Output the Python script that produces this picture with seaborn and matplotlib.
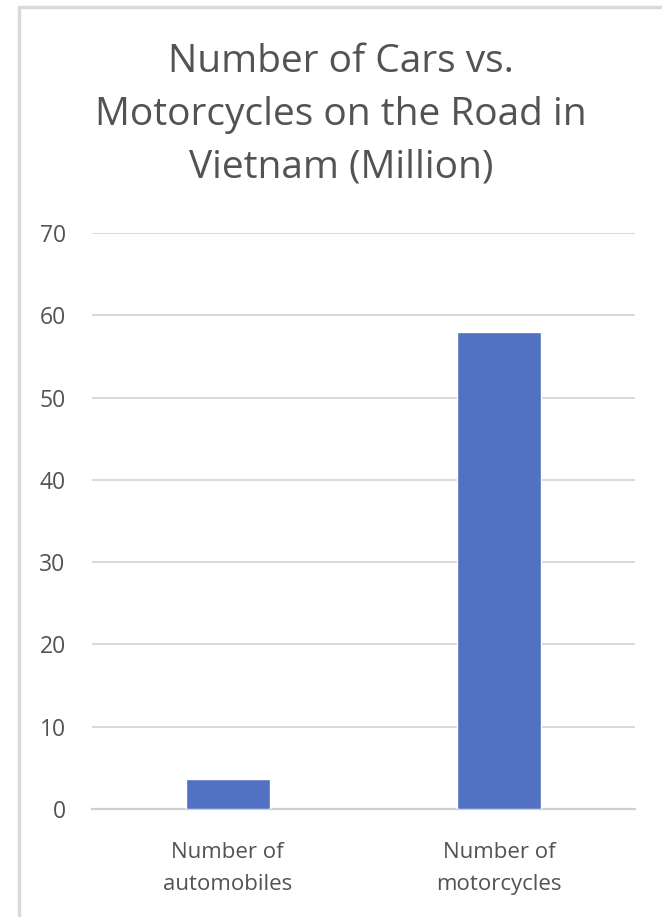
import matplotlib
matplotlib.use("Agg")
import matplotlib.pyplot as plt
from matplotlib.lines import Line2D
import seaborn as sns
import pandas as pd

categories = ["Number of\nautomobiles", "Number of\nmotorcycles"]
values = [3.6, 58]
yticks = [0, 10, 20, 30, 40, 50, 60, 70]
title = "Number of Cars vs.\nMotorcycles on the Road in\nVietnam (Million)"

sns.set_theme(style="white")
plt.rcParams["font.family"] = ["Open Sans", "DejaVu Sans"]

df = pd.DataFrame({"category": categories, "value": values})

fig = plt.figure(figsize=(6.62, 9.17), dpi=100)
ax = fig.add_axes([0.139, 0.1178, 0.820, 0.628])

sns.barplot(data=df, x="category", y="value", color="#5371C3",
            width=0.31, saturation=1, ax=ax, zorder=3)

ax.set_ylim(0, 70)
ax.set_yticks(yticks)
ax.set_xlim(-0.5, 1.5)
ax.grid(axis="y", color="#D9D9D9", linewidth=1.4, zorder=0)
ax.set_axisbelow(True)
for side in ["top", "right", "left"]:
    ax.spines[side].set_visible(False)
ax.spines["bottom"].set_color("#D0D0D0")
ax.spines["bottom"].set_linewidth(1.6)
ax.set_xlabel("")
ax.set_ylabel("")
ax.tick_params(axis="y", length=0, pad=19, labelsize=16.5, labelcolor="#535353")
ax.tick_params(axis="x", length=0, pad=24, labelsize=16, labelcolor="#535353")
for lbl in ax.get_xticklabels():
    lbl.set_linespacing(1.65)

fig.text(0.515, 0.8746, title, ha="center", va="center", fontsize=28,
         color="#535353", linespacing=1.5)

# light frame around the chart
fig.add_artist(Line2D([0.0287, 0.0287], [0.0, 0.9924], transform=fig.transFigure,
                      color="#D9D9D9", linewidth=2.5))
fig.add_artist(Line2D([0.0287, 1.0], [0.9924, 0.9924], transform=fig.transFigure,
                      color="#D9D9D9", linewidth=2.5))

fig.savefig("out.png", dpi=100)
